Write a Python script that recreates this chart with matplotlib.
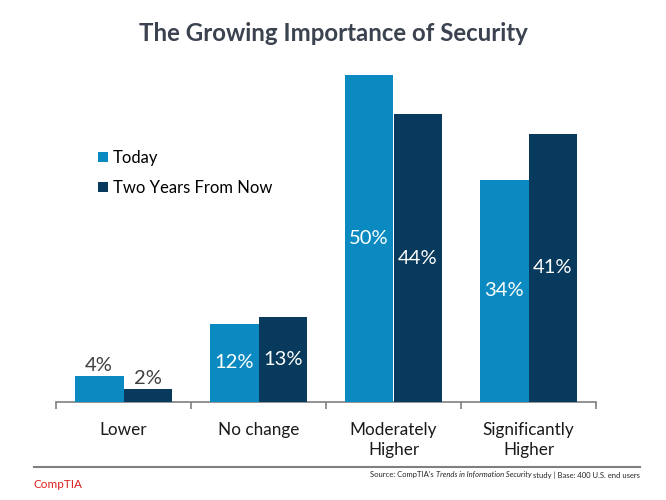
import matplotlib
matplotlib.use("Agg")
import matplotlib.pyplot as plt
import numpy as np
from matplotlib.lines import Line2D

categories = ["Lower", "No change", "Moderately\nHigher", "Significantly\nHigher"]
series_names = ["Today", "Two Years From Now"]
today = [4, 12, 50, 34]
two_years = [2, 13, 44, 41]
colors = ["#0a8ac0", "#073a5c"]

plt.rcParams['font.family'] = ['Lato', 'DejaVu Sans']

fig = plt.figure(figsize=(6.66, 5.0), dpi=100)
ax = fig.add_axes([56/666, 98/500, 540/666, 327/500])

x = np.arange(len(categories))
w = 0.36
vals = [today, two_years]
for i, (name, v) in enumerate(zip(series_names, vals)):
    pos = x + (i - 0.5) * w
    bars = ax.bar(pos, v, width=w, color=colors[i], label=name, zorder=3)
    for xp, val in zip(pos, v):
        if val < 8:
            ax.text(xp, val + 0.3, f"{val}%", ha="center", va="bottom",
                    fontsize=14.5, color="#3f3f3f")
        else:
            ax.text(xp, val / 2, f"{val}%", ha="center", va="center",
                    fontsize=14.5, color="white")

ax.set_xlim(-0.5, len(categories) - 0.5)
ax.set_ylim(0, 50)
for s in ["top", "right", "left"]:
    ax.spines[s].set_visible(False)
ax.spines["bottom"].set_color("#808080")
ax.spines["bottom"].set_linewidth(1.2)
ax.set_yticks([])
ax.set_xticks(np.arange(-0.5, len(categories)), minor=False)
ax.set_xticklabels([])
ax.tick_params(axis="x", length=5, color="#808080", width=1.2)
for xi, c in zip(x, categories):
    ax.text(xi, -3.0, c, ha="center", va="top", fontsize=12.3, color="#1a1a1a",
            linespacing=1.3)

fig.text(0.5, 1 - 33/500, "The Growing Importance of Security", ha="center",
         va="center", fontsize=17.3, fontweight="bold", color="#3b4250")

ax.legend(loc="upper left", bbox_to_anchor=(91/666, 1 - 143/500),
          bbox_transform=fig.transFigure, frameon=False, fontsize=12,
          handlelength=0.6, handleheight=0.6, handletextpad=0.3,
          labelspacing=0.85, borderaxespad=0)

# footer
fig.add_artist(Line2D([34/666, 640/666], [1 - 467/500, 1 - 467/500],
                      color="#7f7f7f", linewidth=1.5, transform=fig.transFigure))
fig.text(34/666, 1 - 484/500, "CompTIA", ha="left", va="center", fontsize=8.5,
         color="#e02020")

fig.canvas.draw()
renderer = fig.canvas.get_renderer()
parts = [("Source: CompTIA's ", "normal"), ("Trends in Information Security", "italic"),
         (" study | Base: 400 U.S. end users", "normal")]
xr = 640/666
yr = 1 - 475/500
for txt, style in reversed(parts):
    t = fig.text(xr, yr, txt, ha="right", va="center", fontsize=5.5,
                 style=style, color="#262626")
    bb = t.get_window_extent(renderer)
    xr -= bb.width / fig.bbox.width

fig.savefig("out.png", dpi=100)
